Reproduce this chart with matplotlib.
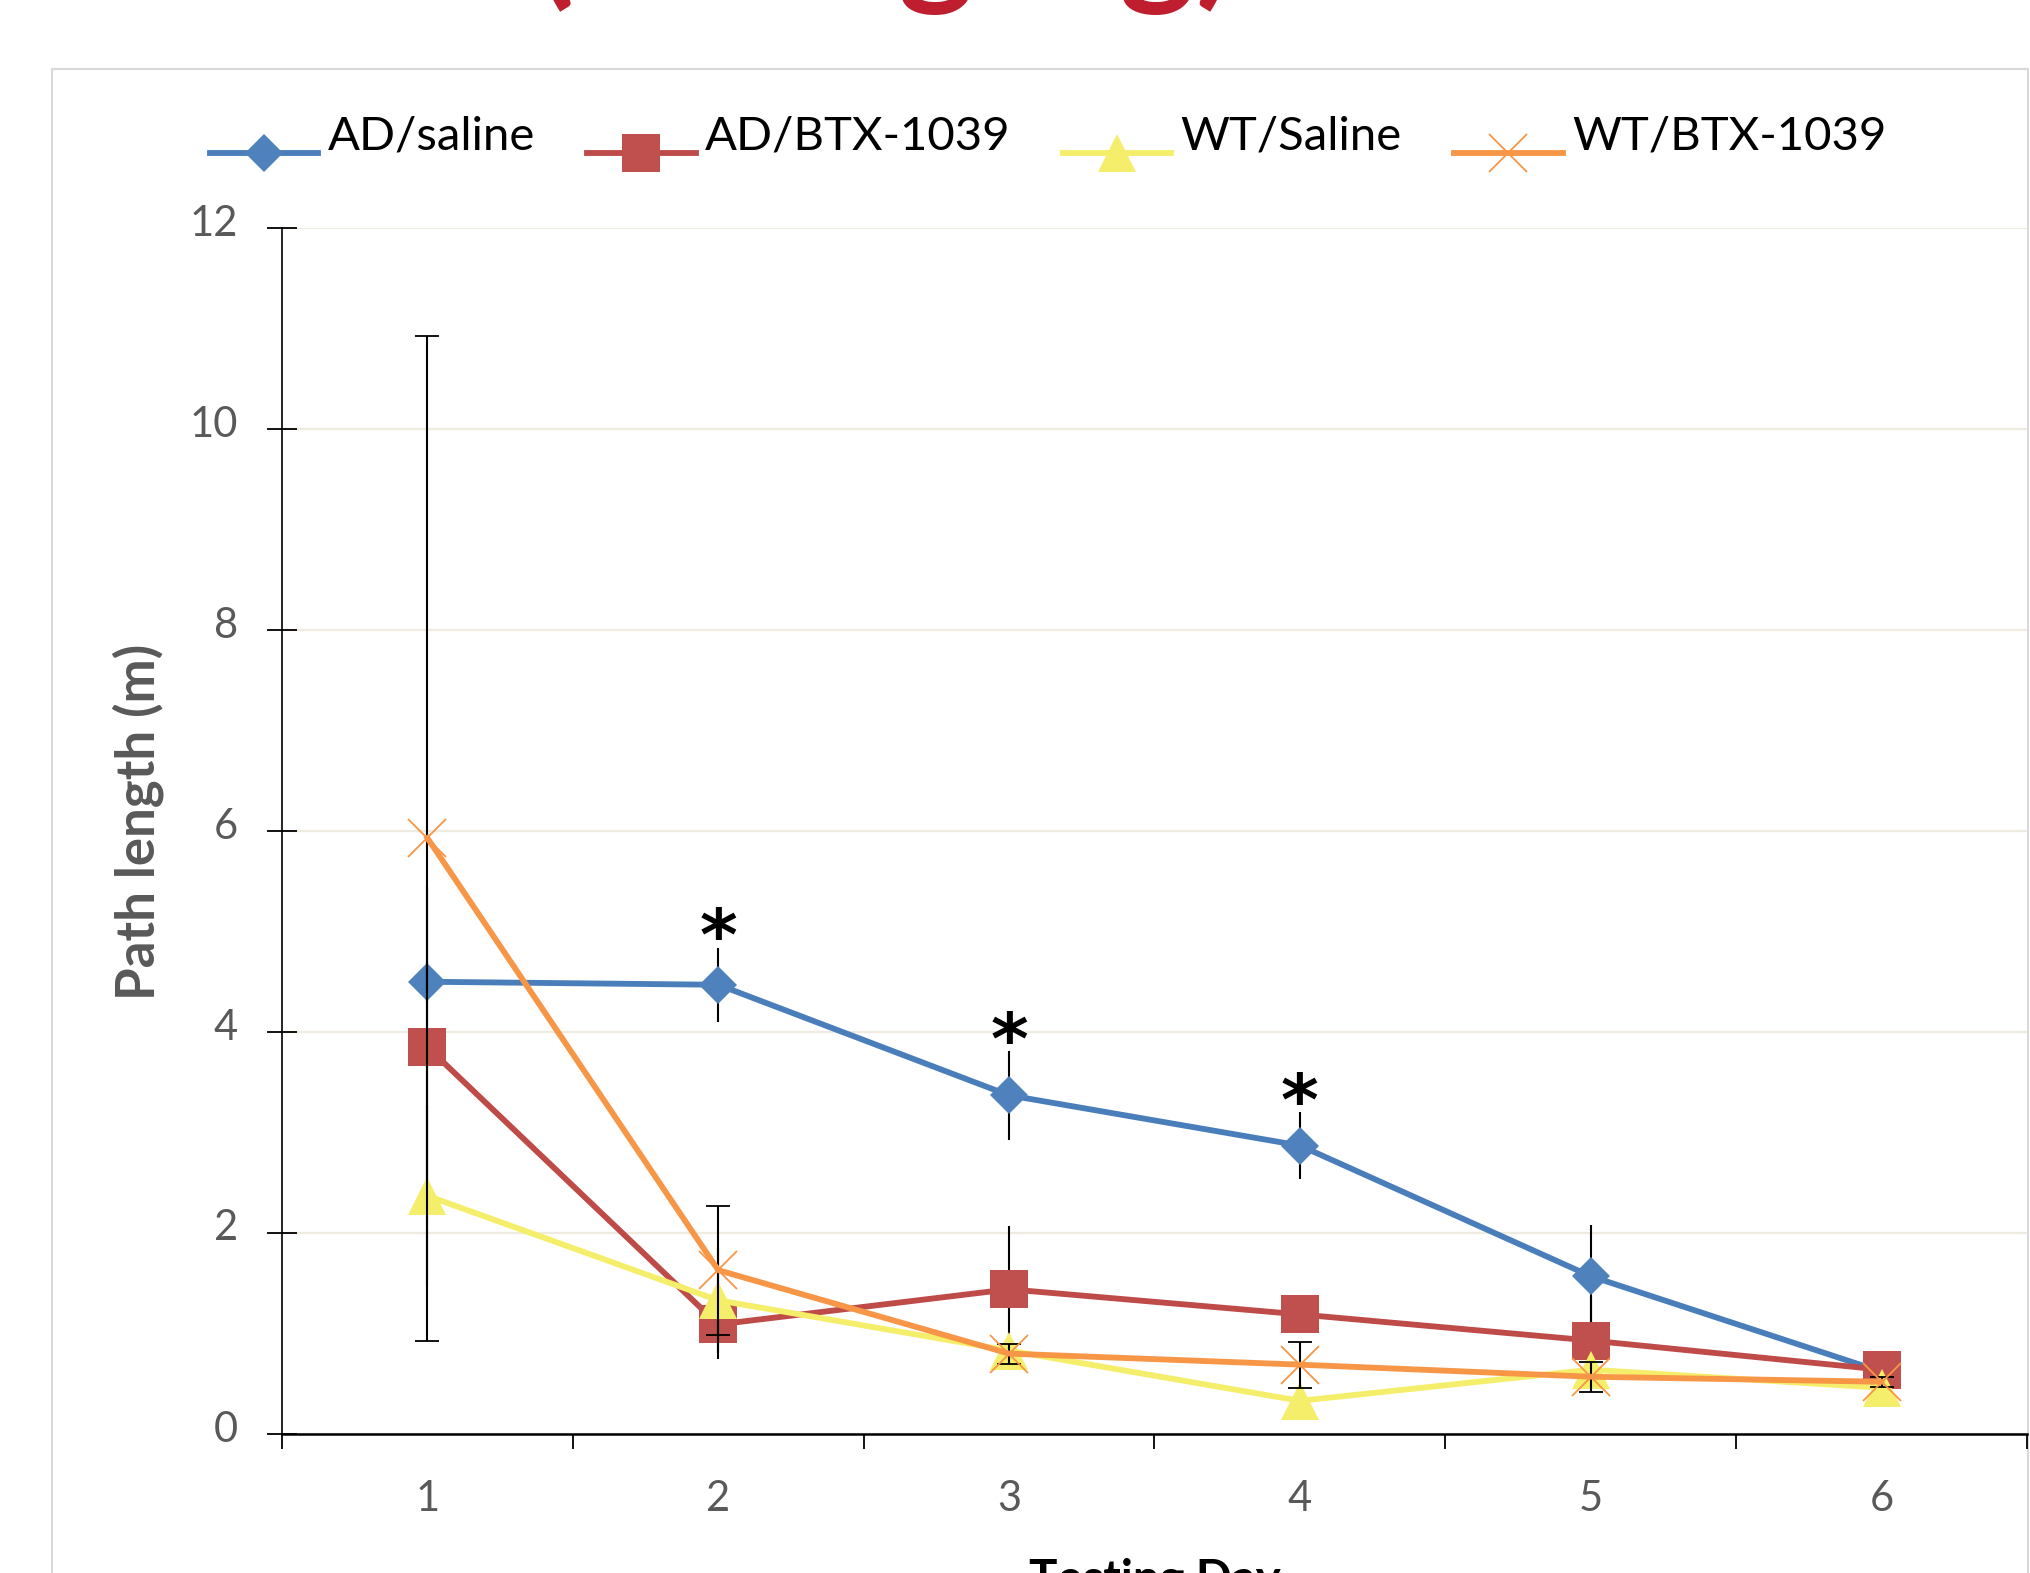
import numpy as np
import matplotlib
matplotlib.use("Agg")
import matplotlib.pyplot as plt
from matplotlib.patches import Rectangle
from matplotlib.transforms import Affine2D

plt.rcParams['font.family'] = ['Lato', 'DejaVu Sans']

# ---------------- data ----------------
days = [1, 2, 3, 4, 5, 6]
series_names = ["AD/saline", "AD/BTX-1039", "WT/Saline", "WT/BTX-1039"]

ad_saline = [4.50, 4.47, 3.37, 2.87, 1.57, 0.62]
ad_saline_err = [0.20, 0.37, 0.44, 0.33, 0.51, 0.18]

ad_btx = [3.85, 1.09, 1.44, 1.19, 0.93, 0.64]
ad_btx_err = [1.60, 0.34, 0.63, 0.15, 0.44, 0.19]

wt_saline = [2.37, 1.33, 0.83, 0.33, 0.64, 0.46]
wt_saline_err = [0.90, 0.52, 0.05, 0.10, 0.05, 0.05]

wt_btx = [5.93, 1.63, 0.80, 0.69, 0.57, 0.52]
wt_btx_err = [5.00, 0.64, 0.10, 0.23, 0.15, 0.05]

signif_days = [2, 3, 4]          # asterisks above AD/saline
y_ticks = [0, 2, 4, 6, 8, 10, 12]
title_text = "(10 mg/kg)"

# ---------------- figure ----------------
W, H = 2031, 1573
fig = plt.figure(figsize=(W / 100, H / 100), dpi=100)

# chart frame
fig.add_artist(Rectangle((52 / W, -0.1), (2028 - 52) / W, (H - 69) / H + 0.1,
                         transform=fig.transFigure, fill=False,
                         edgecolor='#D9D9D9', lw=1.5, zorder=0))

# partially visible red title at top
fig.text(885 / W, 1 - 15 / H, title_text, color='#BE1E2D', fontsize=104,
         fontweight='bold', ha='center', va='bottom')

ax = fig.add_axes([282 / W, 1 - 1434 / H, (2027 - 282) / W, (1434 - 228) / H])

styles = [
    dict(color='#4A7EBB', marker='D', ms=19.5, mfc='#4F81BD', mec='#4F81BD', mew=0),
    dict(color='#BE4B48', marker='s', ms=27.5, mfc='#C0504D', mec='#C0504D', mew=0),
    dict(color='#F5EE6A', marker='^', ms=27, mfc='#F5EE6A', mec='#F5EE6A', mew=0),
    dict(color='#F79646', marker='x', ms=27, mfc='#F79646', mec='#F79646', mew=1.3),
]
values = [ad_saline, ad_btx, wt_saline, wt_btx]
errors = [ad_saline_err, ad_btx_err, wt_saline_err, wt_btx_err]

handles = []
for i, (name, v, e, st) in enumerate(zip(series_names, values, errors, styles)):
    cont = ax.errorbar(days, v, yerr=e, lw=4.2, ecolor='black', elinewidth=1.5,
                       capsize=8.6, capthick=1.5, label=name, zorder=3 + i, **st)
    handles.append(cont[0])

# significance asterisks
for d in signif_days:
    idx = days.index(d)
    top = ad_saline[idx] + ad_saline_err[idx]
    ax.annotate('*', xy=(d, top), xytext=(0, -9), textcoords='offset points',
                ha='center', va='baseline', fontsize=52, fontweight='bold',
                family='DejaVu Sans', color='black', zorder=10)

ax.set_xlim(0.5, 6.5)
ax.set_ylim(0, 12)

# x axis: labels at days, ticks at category boundaries
ax.set_xticks(days)
ax.set_xticklabels([str(d) for d in days])
ax.set_xticks(np.arange(0.5, 7.0, 1.0), minor=True)
ax.tick_params(axis='x', which='major', length=0, pad=33, labelsize=30,
               labelcolor='#595959')
ax.tick_params(axis='x', which='minor', length=10.8, width=1.3, direction='out',
               color='black')

ax.set_yticks(y_ticks)
ax.set_yticklabels([str(t) for t in y_ticks])
ax.tick_params(axis='y', which='major', length=21.6, width=1.3, direction='inout',
               pad=21, labelsize=30, labelcolor='#595959', color='black')
for lbl in ax.get_yticklabels():
    lbl.set_transform(lbl.get_transform() + Affine2D().translate(0, 8))

ax.grid(axis='y', color='#EEEBE1', lw=1.6, zorder=0)
ax.set_axisbelow(True)

for s in ['top', 'right']:
    ax.spines[s].set_visible(False)
ax.spines['left'].set_linewidth(1.2)
ax.spines['left'].set_color('black')
ax.spines['bottom'].set_linewidth(1.8)
ax.spines['bottom'].set_color('black')
ax.spines['bottom'].set_zorder(2)

ax.set_ylabel('Path length (m)', fontsize=38, fontweight='bold', color='#595959')
ax.yaxis.set_label_coords(-(282 - 164) / 1745, 0.5075)
ax.set_xlabel('Testing Day', fontsize=34, fontweight='bold', color='black')
ax.xaxis.set_label_coords(0.5, -(1558 - 1434) / 1206)
ax.xaxis.label.set_va('top')

leg = fig.legend(handles, series_names, loc='center', ncol=4,
                 bbox_to_anchor=(1048 / W, 1 - 157 / H),
                 bbox_transform=fig.transFigure, frameon=False,
                 fontsize=34, handlelength=2.3, handletextpad=0.2,
                 columnspacing=1.1)
for t in leg.get_texts():
    t.set_transform(t.get_transform() + Affine2D().translate(0, 20))

fig.savefig('out.png', dpi=100)
